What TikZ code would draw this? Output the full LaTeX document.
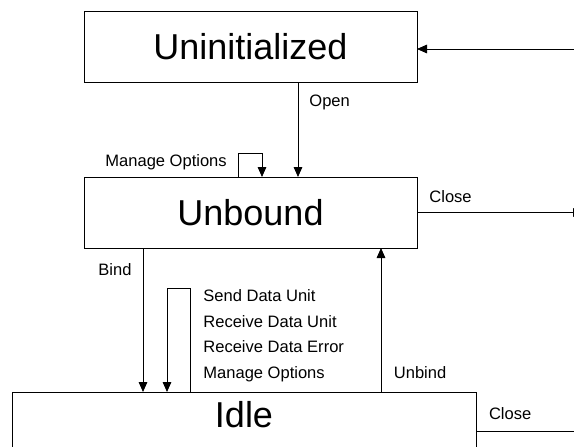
\documentclass[tikz,border=0pt]{standalone}
\usepackage{fontspec}
\setmainfont{Liberation Sans}
\usetikzlibrary{calc}
\usetikzlibrary{arrows.meta}

\begin{document}
\begin{tikzpicture}[x = 0.75pt, y = -0.75pt, line width = 0.6pt,
    state/.style = {draw, inner sep = 0pt, outer sep = 0pt,
        minimum width = 249.75pt, minimum height = 53.25pt,
        font = \fontsize{27}{30}\selectfont},
    lbl/.style = {anchor = base west, inner sep = 0pt,
        font = \fontsize{12.4}{15}\selectfont},
    arr/.style = {-{Triangle[length = 7.5pt, width = 6.5pt]}}]

    \useasboundingbox (0,0) rectangle (574,446);
    \clip (0,0) rectangle (574,446);

    % The three states
    \node[state] (uninit) at (250.5, 46.5) {Uninitialized};
    \node[state] (unbound) at (250.5, 212.5) {Unbound};
    \node[state, minimum width = 348pt, minimum height = 0pt, anchor = north,
        inner ysep = 7pt, text depth = 30pt] (idle) at (244, 392) {Idle};

    % Open
    \coordinate (opentop) at ($(uninit.south)+(47.5,0)$);
    \draw[arr] (opentop) -- (opentop |- unbound.north);
    \node[lbl] (lopen) at (309, 106) {Open};

    % Back into Uninitialized from the right
    \coordinate (back) at (580, 49);
    \draw[arr] (back) -- (back -| uninit.east);

    % Manage Options on Unbound
    \draw[arr] ($(unbound.north)+(-12.5,0)$) -- ++(0,-24) -| ($(unbound.north)+(11.5,0)$);
    \node[lbl] (lmanage) at (105, 166.7) {Manage Options};

    % Close from Unbound
    \coordinate (closeend) at (583, 212.5);
    \draw[arr] (unbound.east) -- (closeend);
    \node[lbl] (lclose) at (429, 202) {Close};

    % Bind
    \coordinate (bindtop) at ($(unbound.south)+(-107.5,0)$);
    \draw[arr] (bindtop) -- (bindtop |- idle.north);
    \node[lbl] (lbind) at (98, 275) {Bind};

    % Loop on Idle
    \draw[arr] ($(idle.north)+(-54,0)$) -- ++(0,-104) -| ($(idle.north)+(-77,0)$);
    \foreach \txt [count = \i] in {Send Data Unit, Receive Data Unit, Receive Data Error, Manage Options}
        \node[lbl] (lops\i) at (203, {301.2 + 25.8*(\i-1)}) {\txt};

    % Unbind
    \coordinate (unbindlow) at ($(idle.north)+(137,0)$);
    \draw[arr] (unbindlow) -- (unbindlow |- unbound.south);
    \node[lbl] (lunbind) at (393.5, 378.8) {Unbind};

    % Close from Idle
    \coordinate (idleclose) at (583, 431);
    \draw (idleclose -| idle.east) -- (idleclose);
    \node[lbl] (lidleclose) at (488.6, 419) {Close};

\end{tikzpicture}
\end{document}
